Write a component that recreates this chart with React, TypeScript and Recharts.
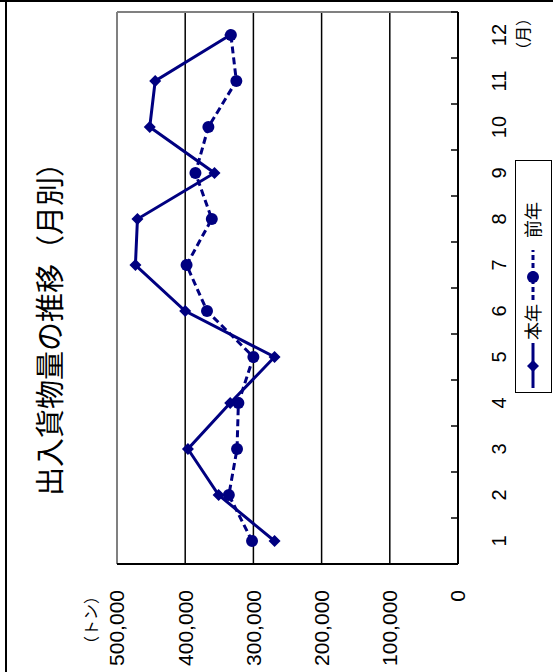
import React from 'react';
import { LineChart, Line, XAxis, YAxis, CartesianGrid, ReferenceLine, Legend } from 'recharts';

const months = [1, 2, 3, 4, 5, 6, 7, 8, 9, 10, 11, 12];
const thisYear = [269000, 351000, 396000, 334000, 269000, 400000, 473000, 470000, 357000, 452000, 444000, 334000];
const lastYear = [302000, 336000, 324000, 322000, 300000, 368000, 398000, 361000, 385000, 366000, 325000, 333000];
const valueTicks = [0, 100000, 200000, 300000, 400000, 500000];

const NAVY = '#000080';
const FONT = "'Liberation Sans', 'Noto Sans CJK JP', sans-serif";
const CJK = "'Noto Sans CJK JP', sans-serif";
const AXIS_Y = 458;
const BAND = 46;

const data = months.map((m, i) => ({ month: m, thisYear: thisYear[i], lastYear: lastYear[i] }));

const diamondPath = (cx: number, cy: number, r: number) =>
  `M${cx},${cy - r}L${cx + r},${cy}L${cx},${cy + r}L${cx - r},${cy}Z`;

const renderDiamond = (p: any) => {
  if (p.cx == null || p.cy == null) return <g key={p.index} />;
  return <path key={p.index} d={diamondPath(p.cx, p.cy, 6)} fill={NAVY} />;
};

const MonthTick = (props: any) => {
  const { x, payload } = props;
  const half = BAND / 2;
  return (
    <g>
      <line x1={x - half} x2={x - half} y1={AXIS_Y} y2={AXIS_Y - 7} stroke="#000" strokeWidth={1.5} />
      {payload.value === 12 && (
        <line x1={x + half} x2={x + half} y1={AXIS_Y} y2={AXIS_Y - 7} stroke="#000" strokeWidth={1.5} />
      )}
      <text x={x} y={AXIS_Y + 48} textAnchor="middle" fontSize={20} fill="#000" fontFamily={FONT}>
        {payload.value}
      </text>
    </g>
  );
};

const LegendBox = () => (
  <div style={{ width: 233, height: 37, border: '1.5px solid #000', boxSizing: 'border-box', background: '#fff' }}>
    <svg width={230} height={34} style={{ display: 'block' }}>
      <line x1={4} x2={49} y1={17} y2={17} stroke={NAVY} strokeWidth={3} />
      <path d={diamondPath(26, 17, 6)} fill={NAVY} />
      <text x={52} y={24} fontSize={18} fill="#000" fontFamily={CJK}>本年</text>
      <line x1={92} x2={142} y1={17} y2={17} stroke={NAVY} strokeWidth={3} strokeDasharray="5 3" />
      <circle cx={115} cy={17} r={6} fill={NAVY} />
      <text x={154} y={24} fontSize={18} fill="#000" fontFamily={CJK}>前年</text>
    </svg>
  </div>
);

export default function App() {
  return (
    <div style={{ position: 'fixed', left: 0, top: 0, width: 553, height: 672, overflow: 'hidden', background: '#fff' }}>
      <div
        style={{
          position: 'absolute',
          left: 0,
          top: 0,
          width: 672,
          height: 553,
          transformOrigin: '0 0',
          transform: 'translate(0px, 672px) rotate(-90deg)',
          fontFamily: FONT,
        }}
      >
        <LineChart width={672} height={553} data={data} margin={{ top: 117, right: 12, bottom: 35, left: 8 }}>
          <CartesianGrid vertical={false} stroke="#000" strokeWidth={1.5} />
          <XAxis
            type="number"
            dataKey="month"
            domain={[0.5, 12.5]}
            ticks={months}
            interval={0}
            tick={<MonthTick />}
            tickLine={false}
            axisLine={{ stroke: '#000', strokeWidth: 2 }}
            height={60}
          />
          <YAxis
            type="number"
            domain={[0, 500000]}
            ticks={valueTicks}
            interval={0}
            width={100}
            tickLine={false}
            tickSize={0}
            tickMargin={26}
            axisLine={{ stroke: '#000', strokeWidth: 2 }}
            tick={{ fontSize: 21, fill: '#000', fontFamily: FONT }}
            tickFormatter={(v: number) => v.toLocaleString('en-US')}
          />
          <ReferenceLine y={500000} stroke="#808080" strokeWidth={2} />
          <ReferenceLine x={12.5} stroke="#808080" strokeWidth={2} />
          <Legend
            layout="horizontal"
            verticalAlign="middle"
            align="center"
            content={<LegendBox />}
            wrapperStyle={{ position: 'absolute', left: 279, top: 515, width: 233, height: 37 }}
          />
          <Line
            name="本年"
            dataKey="thisYear"
            stroke={NAVY}
            strokeWidth={3}
            dot={renderDiamond}
            activeDot={false}
            isAnimationActive={false}
          />
          <Line
            name="前年"
            dataKey="lastYear"
            stroke={NAVY}
            strokeWidth={3}
            strokeDasharray="7 4"
            dot={{ r: 6, fill: NAVY, stroke: 'none' }}
            activeDot={false}
            isAnimationActive={false}
          />
        </LineChart>
        <svg width={672} height={553} style={{ position: 'absolute', left: 0, top: 0, pointerEvents: 'none' }}>
          <line x1={0} x2={672} y1={6} y2={6} stroke="#000" strokeWidth={2} />
          <line x1={671} x2={671} y1={0} y2={553} stroke="#000" strokeWidth={2} />
          <text x={350} y={61} textAnchor="middle" fontSize={29} fill="#000" fontFamily={CJK}>
            出入貨物量の推移（月別）
          </text>
          <text x={84} y={97} textAnchor="end" fontSize={16} fill="#000" fontFamily={CJK}>
            （トン）
          </text>
          <text x={638} y={529} textAnchor="middle" fontSize={16} fill="#000" fontFamily={CJK}>
            （月）
          </text>
        </svg>
      </div>
    </div>
  );
}
